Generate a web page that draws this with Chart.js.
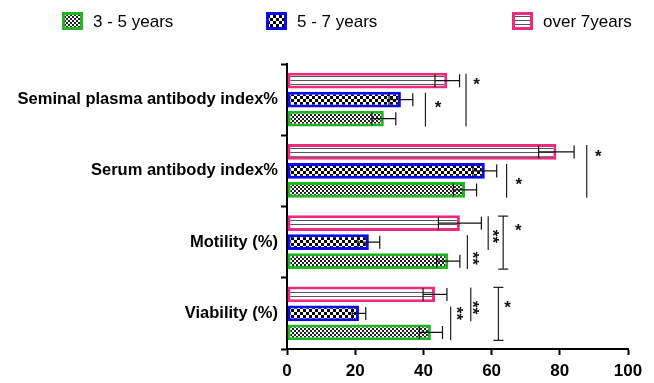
<!DOCTYPE html>
<html>
<head>
<meta charset="utf-8">
<script src="https://cdn.jsdelivr.net/npm/chart.js@4.4.1/dist/chart.umd.min.js"></script>
<style>
  html, body { margin: 0; padding: 0; background: #fff; }
  #wrap { width: 654px; height: 383px; }
</style>
</head>
<body>
<div id="wrap"><canvas id="chart" width="654" height="383"></canvas></div>
<script>
// categories, top to bottom
const CATEGORIES = ['Seminal plasma antibody index%', 'Serum antibody index%', 'Motility (%)', 'Viability (%)'];

// series in legend order
const SERIES = ['3 - 5 years', '5 - 7 years', 'over 7years'];
const Y3_5 = [28.4, 52.2, 47.3, 42.2];
const Y3_5_SD = [3.5, 3.4, 3.4, 3.4];
const Y5_7 = [33.4, 58, 24, 21.1];
const Y5_7_SD = [3.5, 3.5, 3.2, 2];
const OVER7 = [47, 79, 50.7, 43.4];
const OVER7_SD = [3.6, 5.2, 6.3, 3.5];

const X_TICKS = [0, 20, 40, 60, 80, 100];

// significance marks; bar index 0 = over 7, 1 = 5-7, 2 = 3-5 (top to bottom)
const SIG_CAT = [0, 0, 1, 1, 2, 2, 2, 3, 3, 3];
const SIG_FROM = [1, 0, 1, 0, 1, 0, 0, 1, 0, 0];
const SIG_TO = [2, 2, 2, 2, 2, 1, 2, 2, 1, 2];
const SIG_X = [40.6, 52.5, 64.4, 87.9, 52.9, 59, 63.4, 48, 53.9, 62];
const SIG_TEXT = ['*', '*', '*', '*', '**', '**', '*', '**', '**', '*'];
const SIG_TEXT_X = [44.3, 55.6, 68, 91.3, 55.7, 61.6, 67.8, 51, 55.7, 64.7];
const SIG_TEXT_AT = [1.2, 0, 1.5, 0, 1.85, 0.7, 0.17, 1.0, 0.7, 0.45];
const SIG_CAPS = [false, false, false, false, false, false, true, false, false, true];

const GREEN = '#1fb523';
const BLUE = '#0a0af2';
const PINK = '#ee2a7f';

const FONT = "'Liberation Sans', Arial, sans-serif";

function makePattern(kind) {
  const c = document.createElement('canvas');
  const g = c.getContext('2d');
  if (kind === 'fine') {
    c.width = 4; c.height = 4;
    g.fillStyle = '#fff'; g.fillRect(0, 0, 4, 4);
    g.fillStyle = '#222';
    g.fillRect(0, 0, 2, 2); g.fillRect(2, 2, 2, 2);
  } else if (kind === 'check') {
    c.width = 6; c.height = 6;
    g.fillStyle = '#fff'; g.fillRect(0, 0, 6, 6);
    g.fillStyle = '#000';
    g.fillRect(0, 0, 3, 3); g.fillRect(3, 3, 3, 3);
  } else {
    c.width = 4; c.height = 4;
    g.fillStyle = '#fff'; g.fillRect(0, 0, 4, 4);
    g.fillStyle = '#555';
    g.fillRect(0, 0, 4, 1);
  }
  return g.createPattern(c, 'repeat');
}

const PAT_FINE = makePattern('fine');
const PAT_CHECK = makePattern('check');
const PAT_LINES = makePattern('lines');

// legend layout (pixel positions of each box)
const LEGEND_X = [62, 266, 512];
const LEGEND_FILL = [PAT_FINE, PAT_CHECK, PAT_LINES];
const LEGEND_BORDER = [GREEN, BLUE, PINK];

const errorBars = {
  id: 'errorBars',
  afterDatasetsDraw(chart) {
    const ctx = chart.ctx;
    const xs = chart.scales.x;
    ctx.save();
    ctx.strokeStyle = '#111';
    ctx.lineWidth = 1.2;
    chart.data.datasets.forEach((ds, i) => {
      const meta = chart.getDatasetMeta(i);
      meta.data.forEach((bar, j) => {
        const v = ds.data[j];
        const sd = ds.sd[j];
        const x1 = xs.getPixelForValue(v - sd);
        const x2 = xs.getPixelForValue(v + sd);
        const y = bar.y;
        const h = 6.5;
        ctx.beginPath();
        ctx.moveTo(x1, y); ctx.lineTo(x2, y);
        ctx.moveTo(x1, y - h); ctx.lineTo(x1, y + h);
        ctx.moveTo(x2, y - h); ctx.lineTo(x2, y + h);
        ctx.stroke();
      });
    });
    ctx.restore();
  }
};

const sigMarks = {
  id: 'sigMarks',
  afterDatasetsDraw(chart) {
    const ctx = chart.ctx;
    const xs = chart.scales.x;
    const metas = [0, 1, 2].map(i => chart.getDatasetMeta(i));
    ctx.save();
    ctx.strokeStyle = '#222';
    ctx.fillStyle = '#111';
    ctx.lineWidth = 1.2;
    const size = 17;
    ctx.font = `bold ${size}px ${FONT}`;
    ctx.textAlign = 'center';
    ctx.textBaseline = 'alphabetic';
    SIG_CAT.forEach((c, k) => {
      const top = metas[SIG_FROM[k]].data[c];
      const bot = metas[SIG_TO[k]].data[c];
      const y1 = top.y - top.height / 2 + 1;
      const y2 = bot.y + bot.height / 2;
      const x = xs.getPixelForValue(SIG_X[k]);
      ctx.beginPath();
      ctx.moveTo(x, y1); ctx.lineTo(x, y2);
      if (SIG_CAPS[k]) {
        ctx.moveTo(x - 5, y1); ctx.lineTo(x + 5, y1);
        ctx.moveTo(x - 5, y2); ctx.lineTo(x + 5, y2);
      }
      ctx.stroke();

      // label position, interpolated between bar centres
      const at = SIG_TEXT_AT[k];
      const i0 = Math.floor(at), i1 = Math.min(2, i0 + 1);
      const ya = metas[i0].data[c].y, yb = metas[i1].data[c].y;
      const ty = ya + (yb - ya) * (at - i0);
      const tx = xs.getPixelForValue(SIG_TEXT_X[k]);
      ctx.save();
      ctx.translate(tx, ty);
      if (SIG_TEXT[k].length > 1) ctx.rotate(Math.PI / 2);
      ctx.fillText(SIG_TEXT[k], 0, size * 0.57);
      ctx.restore();
    });
    ctx.restore();
  }
};

const customLegend = {
  id: 'customLegend',
  afterDraw(chart) {
    const ctx = chart.ctx;
    ctx.save();
    ctx.font = `17px ${FONT}`;
    ctx.textBaseline = 'middle';
    ctx.textAlign = 'left';
    SERIES.forEach((name, i) => {
      const x = LEGEND_X[i];
      ctx.fillStyle = LEGEND_FILL[i];
      ctx.fillRect(x, 12, 21, 18);
      ctx.strokeStyle = LEGEND_BORDER[i];
      ctx.lineWidth = 3;
      ctx.strokeRect(x + 1.5, 13.5, 18, 15);
      ctx.fillStyle = '#000';
      ctx.fillText(name, x + 31, 22);
    });
    ctx.restore();
  }
};

new Chart(document.getElementById('chart'), {
  type: 'bar',
  data: {
    labels: CATEGORIES,
    // drawn top to bottom inside each group
    datasets: [
      { label: SERIES[2], data: OVER7, sd: OVER7_SD, backgroundColor: PAT_LINES, borderColor: PINK },
      { label: SERIES[1], data: Y5_7, sd: Y5_7_SD, backgroundColor: PAT_CHECK, borderColor: BLUE },
      { label: SERIES[0], data: Y3_5, sd: Y3_5_SD, backgroundColor: PAT_FINE, borderColor: GREEN },
    ].map(d => ({ ...d, borderWidth: 3, borderSkipped: false, categoryPercentage: 0.8, barPercentage: 0.84 }))
  },
  options: {
    responsive: false,
    animation: false,
    devicePixelRatio: 1,
    indexAxis: 'y',
    layout: { padding: { left: 0, top: 64, right: 26, bottom: 0 } },
    plugins: {
      legend: { display: false },
      tooltip: { enabled: false },
    },
    scales: {
      x: {
        min: 0,
        max: 100,
        afterBuildTicks(scale) {
          scale.ticks = X_TICKS.map(v => ({ value: v }));
        },
        border: { color: '#000', width: 2 },
        grid: { drawOnChartArea: false, drawTicks: true, tickLength: 6, tickColor: '#000', tickWidth: 2 },
        ticks: { color: '#000', padding: 6, font: { family: FONT, size: 17, weight: 'bold' } },
        afterFit(scale) { scale.height = 34; }
      },
      y: {
        border: { color: '#000', width: 2 },
        grid: { drawOnChartArea: false, drawTicks: true, tickLength: 6, tickColor: '#000', tickWidth: 2 },
        ticks: { color: '#000', padding: 3, font: { family: FONT, size: 16.5, weight: 'bold' } },
        afterFit(scale) { scale.width = 287; }
      }
    }
  },
  plugins: [errorBars, sigMarks, customLegend]
});
</script>
</body>
</html>
